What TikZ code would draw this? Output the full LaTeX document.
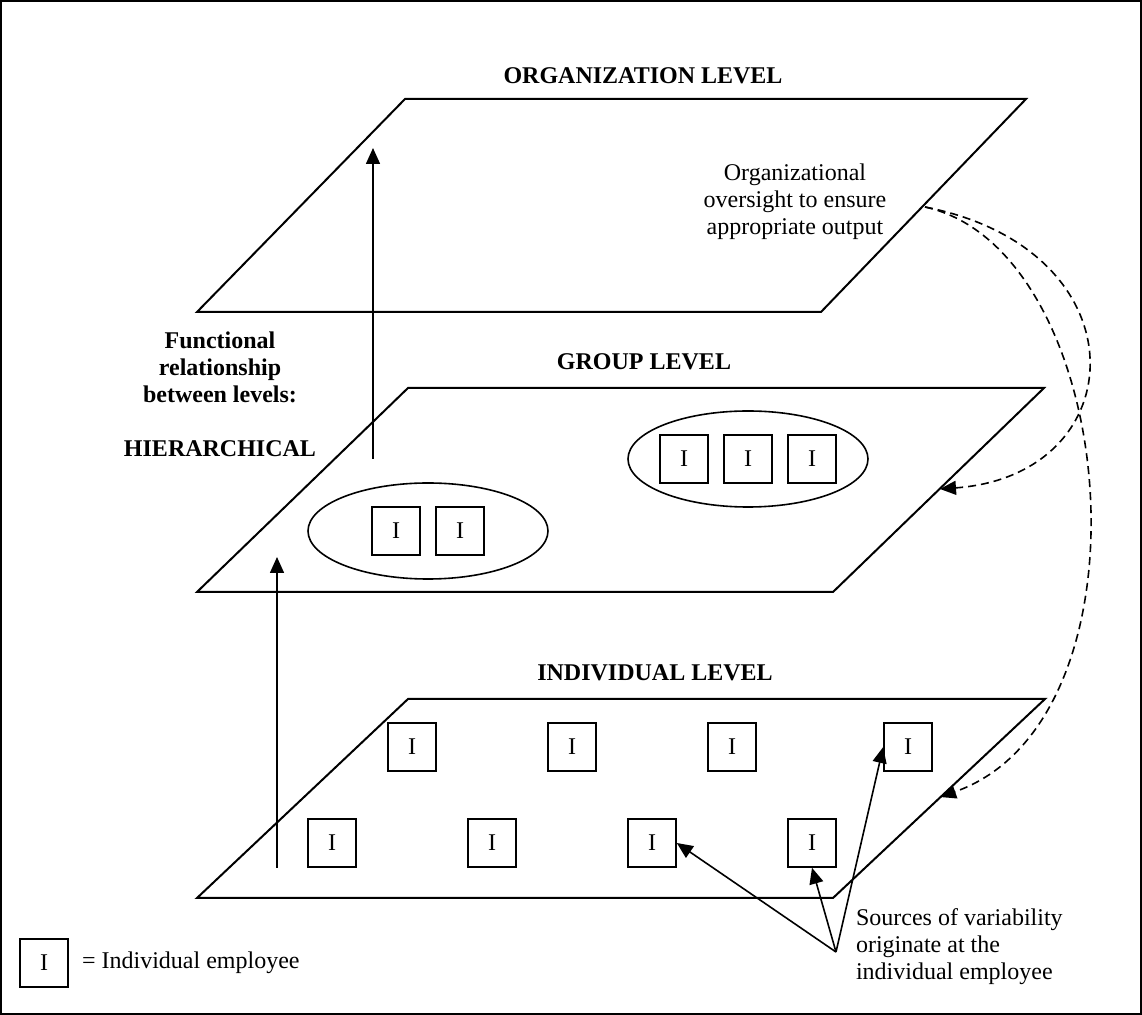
\documentclass[tikz,border=0pt]{standalone}
\usepackage{fontspec}
\setmainfont{Liberation Serif}
\usetikzlibrary{arrows.meta,shapes.geometric}

\begin{document}
\begin{tikzpicture}[x=0.5pt, y=-0.5pt,
    every node/.style={font=\fontsize{12pt}{13.5pt}\selectfont},
    emp/.style={draw, line width=0.8pt, minimum size=24pt, inner sep=0pt},
    team/.style={draw, ellipse, line width=0.8pt, minimum width=120pt, minimum height=48pt},
    plane/.style={draw, line width=1pt},
    title/.style={font=\fontsize{12pt}{13.5pt}\selectfont\bfseries},
    arr/.style={line width=0.8pt, -{Triangle[length=8pt,width=7pt]}},
    flow/.style={line width=0.8pt, dash pattern=on 4pt off 2.5pt, -{Triangle[length=8pt,width=7pt]}}]
    \useasboundingbox (0,0) rectangle (1142,1015);
    \draw[line width=1pt] (1,1) rectangle (1141,1014);

    % Planes
    \draw[plane] (405,99) -- (1026,99) -- (821,312) -- (197,312) -- cycle;
    \draw[plane] (408,388) -- (1044,388) -- (833,592) -- (197,592) -- cycle;
    \draw[plane] (408,699) -- (1045,699) -- (833,898) -- (197,898) -- cycle;

    % Titles
    \node[title] (orgt) at (643,76) {ORGANIZATION LEVEL};
    \node[title] (grpt) at (644,362) {GROUP LEVEL};
    \node[title] (indt) at (655,673) {INDIVIDUAL LEVEL};
    \node[title, align=center] (func) at (220,394) {Functional\\relationship\\between levels:\\[13.5pt]HIERARCHICAL};

    % Groups
    \node[team] (teamA) at (428,531) {};
    \node[team] (teamB) at (748,459) {};
    \node[emp] (g1) at (396,531) {I};
    \node[emp] (g2) at (460,531) {I};
    \node[emp] (g3) at (684,459) {I};
    \node[emp] (g4) at (748,459) {I};
    \node[emp] (g5) at (812,459) {I};

    % Individuals
    \node[emp] (i1) at (412,747) {I};
    \node[emp] (i2) at (572,747) {I};
    \node[emp] (i3) at (732,747) {I};
    \node[emp] (i4) at (908,747) {I};
    \node[emp] (i5) at (332,843) {I};
    \node[emp] (i6) at (492,843) {I};
    \node[emp] (i7) at (652,843) {I};
    \node[emp] (i8) at (812,843) {I};

    % Hierarchy arrows
    \coordinate (up1) at (373,459);
    \coordinate (up1end) at (373,148);
    \coordinate (up2) at (277,868);
    \coordinate (up2end) at (277,557);
    \draw[arr] (up1) -- (up1end);
    \draw[arr] (up2) -- (up2end);

    % Oversight
    \node[align=center] (ovtxt) at (795,202) {Organizational\\oversight to ensure\\appropriate output};
    \coordinate (ovs) at (925,207);
    \coordinate (gedge) at (940,489);
    \coordinate (iedge) at (940,797);
    \draw[flow] (ovs) .. controls (1145,250) and (1135,475) .. (gedge);
    \draw[flow] (ovs) .. controls (1120,250) and (1160,720) .. (iedge);

    % Sources of variability
    \node[align=left, anchor=west] (srctxt) at (849,947) {Sources of variability\\originate at the\\individual employee};
    \coordinate (src) at (836,952);
    \draw[arr] (src) -- (i7.east);
    \draw[arr] (src) -- (i8.south);
    \draw[arr] (src) -- (i4.west);

    % Legend
    \node[emp] (key) at (44,963) {I};
    \node[anchor=west] (keytxt) at (75,963) {= Individual employee};
\end{tikzpicture}
\end{document}
